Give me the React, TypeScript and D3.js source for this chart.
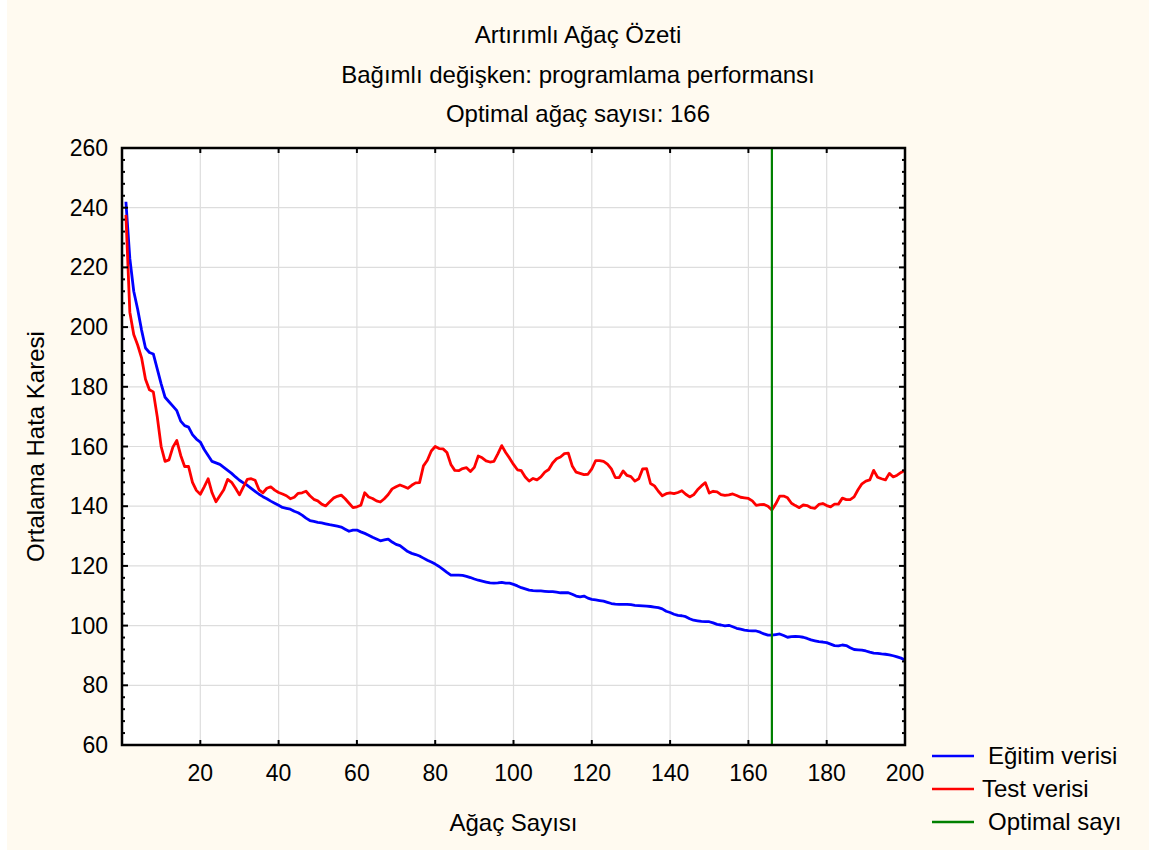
import React from "react";
import * as d3 from "d3";

// Artırımlı ağaç özeti: eğitim / test hata eğrileri (ağaç sayısı 1..200)
const egitim = [
  242, 223, 212, 206, 199, 193, 191.5, 191, 186, 181,
  176.5, 175, 173.5, 172, 168.5, 167, 166.5, 164, 162.5, 161.5,
  159, 157, 155, 154.5, 154, 153, 152, 151, 149.8, 148.7,
  147.8, 147, 146, 145, 144, 143.2, 142.5, 141.7, 141, 140.3,
  139.6, 139.3, 139, 138.3, 137.8, 137, 136, 135.2, 134.9, 134.6,
  134.4, 134.1, 133.8, 133.6, 133.3, 133, 132.3, 131.6, 132, 132,
  131.4, 130.9, 130.3, 129.6, 129, 128.4, 128.7, 129, 128, 127.2,
  126.8, 125.8, 124.8, 124.2, 123.8, 123.3, 122.6, 121.9, 121.3, 120.6,
  119.8, 118.8, 117.8, 116.9, 116.9, 116.9, 116.8, 116.5, 116.1, 115.6,
  115.2, 114.9, 114.6, 114.3, 114.2, 114.3, 114.5, 114.2, 114.2, 113.8,
  113.3, 112.7, 112.3, 111.9, 111.7, 111.6, 111.6, 111.5, 111.4, 111.4,
  111.2, 111, 111, 111, 110.5, 109.9, 109.6, 109.9, 109.2, 108.8,
  108.6, 108.4, 108.2, 107.8, 107.4, 107.2, 107.1, 107.1, 107.1, 107,
  106.8, 106.7, 106.6, 106.5, 106.4, 106.2, 106, 105.6, 104.8, 104.4,
  103.8, 103.4, 103.3, 103, 102.3, 101.8, 101.6, 101.4, 101.3, 101.3,
  100.9, 100.4, 100.2, 99.9, 100.1, 99.6, 99.1, 98.8, 98.5, 98.3,
  98.2, 98.2, 97.8, 97.2, 96.8, 96.8, 97, 97.2, 96.7, 96.1,
  96.3, 96.4, 96.3, 96.1, 95.7, 95.2, 94.9, 94.6, 94.5, 94.3,
  93.8, 93.3, 93.2, 93.5, 93.3, 92.6, 92, 91.9, 91.8, 91.5,
  91.1, 90.8, 90.7, 90.5, 90.4, 90.2, 89.9, 89.5, 89.1, 88.5,
];

const test = [
  237.6, 205, 197.5, 194, 189.7, 182.5, 179, 178.3, 170, 160,
  155, 155.5, 159.8, 162, 157, 153.3, 153.3, 148, 145.3, 144,
  146.5, 149.2, 144.5, 141.5, 143.5, 145.5, 149, 148, 146, 143.8,
  146.5, 149, 149.2, 148.7, 145.5, 144.5, 146, 146.5, 145.4, 144.6,
  144.1, 143.5, 142.5, 143, 144.3, 144.5, 145, 143.5, 142.3, 141.8,
  140.7, 140.1, 141.4, 142.7, 143.3, 143.7, 142.5, 141, 139.5, 139.8,
  140.3, 144.5, 143.1, 142.6, 141.8, 141.4, 142.5, 143.9, 145.8, 146.5,
  147.1, 146.6, 146, 147, 147.8, 147.9, 153.5, 155.4, 158.5, 160,
  159.3, 159.2, 158, 154, 152, 151.9, 152.6, 152.9, 151.6, 153,
  156.8, 156.2, 155.2, 154.8, 155, 157.5, 160.3, 158, 156.1, 154,
  152.2, 151.9, 149.8, 148.4, 149.3, 148.8, 149.8, 151.4, 152.3, 154.5,
  155.9, 156.5, 157.6, 157.8, 153.5, 151.4, 151, 150.6, 150.7, 152.5,
  155.3, 155.3, 155, 154.1, 152.5, 149.6, 149.6, 151.8, 150.3, 149.9,
  148.4, 149.2, 152.5, 152.6, 147.6, 146.8, 145, 143.5, 144.2, 144.5,
  144.2, 144.6, 145.2, 144, 143.1, 143.8, 145.5, 146.8, 147.9, 144.4,
  145, 144.8, 143.9, 143.6, 143.8, 144.1, 143.6, 143, 142.8, 142.6,
  141.8, 140.3, 140.5, 140.6, 140, 138.7, 140.8, 143.4, 143.4, 142.8,
  141, 140.2, 139.5, 140.4, 140.2, 139.5, 139.3, 140.6, 140.9, 140.2,
  139.8, 140.7, 140.7, 142.7, 142.2, 142.2, 143.1, 145.5, 147.5, 148.4,
  148.8, 152, 149.7, 149.2, 148.8, 151, 149.8, 150.4, 151.3, 152,
];

const agacSayisi = d3.range(1, egitim.length + 1);
const optimal = 166;

const xTicks = [20, 40, 60, 80, 100, 120, 140, 160, 180, 200];
const yTicks = [60, 80, 100, 120, 140, 160, 180, 200, 220, 240, 260];
const yMinor = d3.range(60, 261, 4).filter((v) => v % 20 !== 0);

const titles = [
  "Artırımlı Ağaç Özeti",
  "Bağımlı değişken: programlama performansı",
  "Optimal ağaç sayısı: 166",
];

const legend = [
  { label: "Eğitim verisi", color: "#0000ff", dx: 0 },
  { label: "Test verisi", color: "#ff0000", dx: -6 },
  { label: "Optimal sayı", color: "#008000", dx: 0 },
];

const W = 1149, H = 852;
const m = { l: 122, r: 905, t: 148, b: 745 };
const font = "'Liberation Sans', Arial, sans-serif";

export default function App() {
  const x = d3.scaleLinear().domain([0, 200]).range([m.l, m.r]);
  const y = d3.scaleLinear().domain([60, 260]).range([m.b, m.t]);

  const line = d3
    .line<number>()
    .x((_, i) => x(agacSayisi[i]))
    .y((d) => y(d));

  return (
    <svg
      width={W}
      height={H}
      style={{ position: "absolute", left: 0, top: 0, display: "block" }}
      fontFamily={font}
    >
      <rect x={0} y={0} width={W} height={H} fill="#fff" />
      <rect x={7} y={0} width={W - 7} height={850} fill="#fffaf0" />

      {titles.map((t, i) => (
        <text key={t} x={578} y={43 + i * 39.5} textAnchor="middle" fontSize={24} fill="#000">
          {t}
        </text>
      ))}

      <rect x={m.l} y={m.t} width={m.r - m.l} height={m.b - m.t} fill="#fff" />

      {/* grid */}
      {xTicks.slice(0, -1).map((v) => (
        <line key={"gx" + v} x1={x(v)} x2={x(v)} y1={m.t} y2={m.b} stroke="#dddddd" strokeWidth={1.2} />
      ))}
      {yTicks.slice(1, -1).map((v) => (
        <line key={"gy" + v} x1={m.l} x2={m.r} y1={y(v)} y2={y(v)} stroke="#dddddd" strokeWidth={1.2} />
      ))}

      <path d={line(egitim) || ""} fill="none" stroke="#0000ff" strokeWidth={2.8} strokeLinejoin="round" />
      <path d={line(test) || ""} fill="none" stroke="#ff0000" strokeWidth={2.8} strokeLinejoin="round" />
      <line x1={x(optimal)} x2={x(optimal)} y1={m.t} y2={m.b} stroke="#008000" strokeWidth={2.2} />

      {/* frame and ticks */}
      <rect x={m.l} y={m.t} width={m.r - m.l} height={m.b - m.t} fill="none" stroke="#000" strokeWidth={2.5} />
      {xTicks.slice(0, -1).map((v) => (
        <g key={"tx" + v}>
          <line x1={x(v)} x2={x(v)} y1={m.b} y2={m.b - 5} stroke="#000" strokeWidth={2} />
          <line x1={x(v)} x2={x(v)} y1={m.t} y2={m.t + 5} stroke="#000" strokeWidth={2} />
        </g>
      ))}
      {yTicks.slice(1, -1).map((v) => (
        <g key={"ty" + v}>
          <line x1={m.l} x2={m.l + 6} y1={y(v)} y2={y(v)} stroke="#000" strokeWidth={2} />
          <line x1={m.r} x2={m.r - 6} y1={y(v)} y2={y(v)} stroke="#000" strokeWidth={2} />
        </g>
      ))}
      {yMinor.map((v) => (
        <g key={"tm" + v}>
          <line x1={m.l} x2={m.l + 3} y1={y(v)} y2={y(v)} stroke="#000" strokeWidth={2} />
          <line x1={m.r} x2={m.r - 3} y1={y(v)} y2={y(v)} stroke="#000" strokeWidth={2} />
        </g>
      ))}

      {/* tick labels */}
      {xTicks.map((v) => (
        <text key={"lx" + v} x={x(v)} y={781} textAnchor="middle" fontSize={23}>
          {v}
        </text>
      ))}
      {yTicks.map((v) => (
        <text key={"ly" + v} x={108} y={y(v) + 8} textAnchor="end" fontSize={23}>
          {v}
        </text>
      ))}

      <text x={(m.l + m.r) / 2} y={831} textAnchor="middle" fontSize={24}>
        Ağaç Sayısı
      </text>
      <text
        transform={`translate(44,${(m.t + m.b) / 2}) rotate(-90)`}
        textAnchor="middle"
        fontSize={24}
      >
        Ortalama Hata Karesi
      </text>

      {legend.map((l, i) => (
        <g key={l.label} transform={`translate(0,${756 + i * 33})`}>
          <line x1={932} x2={974} y1={0} y2={0} stroke={l.color} strokeWidth={2.5} />
          <text x={988 + l.dx} y={8} fontSize={24}>
            {l.label}
          </text>
        </g>
      ))}
    </svg>
  );
}
